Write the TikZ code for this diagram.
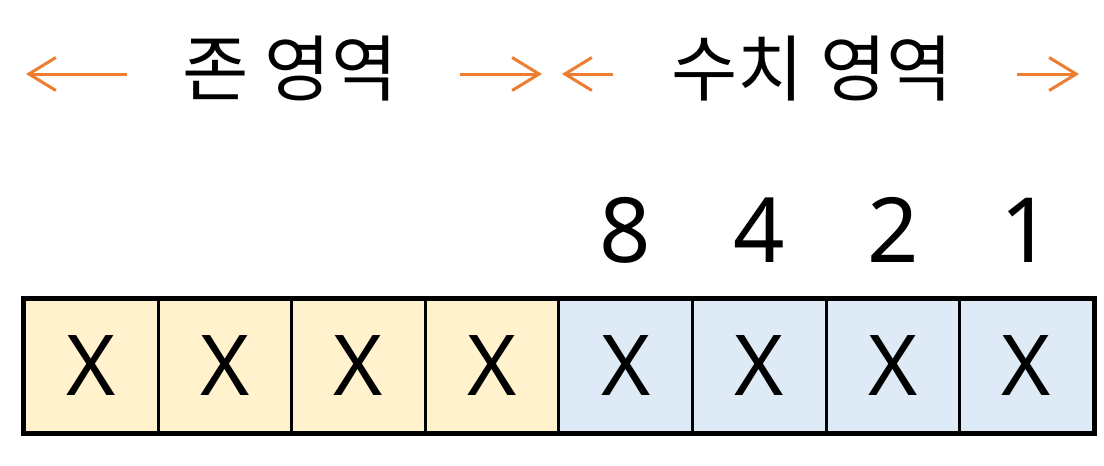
\documentclass[tikz,border=0pt]{standalone}
\usepackage{fontspec}
\setmainfont{Noto Sans}
\newfontfamily\kor{Noto Sans CJK KR}
\usepackage{xcolor}
\usetikzlibrary{arrows.meta,positioning}

\definecolor{zonefill}{HTML}{FFF2CC}
\definecolor{digitfill}{HTML}{DEEBF7}
\definecolor{arrowcol}{HTML}{ED7D31}

\tikzset{
    cell/.style={draw=black, line width=3pt, minimum width=133.6pt, minimum height=133pt,
        inner sep=0pt, font=\fontsize{84}{84}\selectfont},
    rangearrow/.style={arrowcol, line width=3pt, -{Straight Barb[length=27pt,width=33pt]}},
    title/.style={anchor=base, font=\kor\fontsize{72}{72}\selectfont},
    weight/.style={anchor=base, font=\fontsize{90}{90}\selectfont}
}

\begin{document}
\begin{tikzpicture}[x=1pt,y=-1pt]
    \useasboundingbox (0,0) rectangle (1104,466);

    % Zone and digit cells
    \foreach \i in {1,...,8} {
        \ifnum\i<5 \def\cellcol{zonefill}\else \def\cellcol{digitfill}\fi
        \node[cell, fill=\cellcol] (c\i) at ({24.5+133.6*(\i-0.5)},365.5) {X};
    }
    \draw[line width=4pt] (c1.north west) rectangle (c8.south east);

    % Weights above the digit cells
    \foreach \i/\w in {5/8, 6/4, 7/2, 8/1} {
        \node[weight] (w\i) at ({24.5+133.6*(\i-0.5)},262) {\w};
    }

    % Range titles
    \node[title] (zone) at (290,95) {존 영역};
    \node[title] (digit) at (812,95) {수치 영역};

    % Range arrows
    \coordinate (zl) at (26,74);
    \coordinate (zlt) at (127,74);
    \coordinate (zr) at (542,74);
    \coordinate (zrt) at (460,74);
    \coordinate (dl) at (562,74);
    \coordinate (dlt) at (613,74);
    \coordinate (dr) at (1079,74);
    \coordinate (drt) at (1017,74);
    \draw[rangearrow] (zlt) -- (zl);
    \draw[rangearrow] (zrt) -- (zr);
    \draw[rangearrow] (dlt) -- (dl);
    \draw[rangearrow] (drt) -- (dr);
\end{tikzpicture}
\end{document}
